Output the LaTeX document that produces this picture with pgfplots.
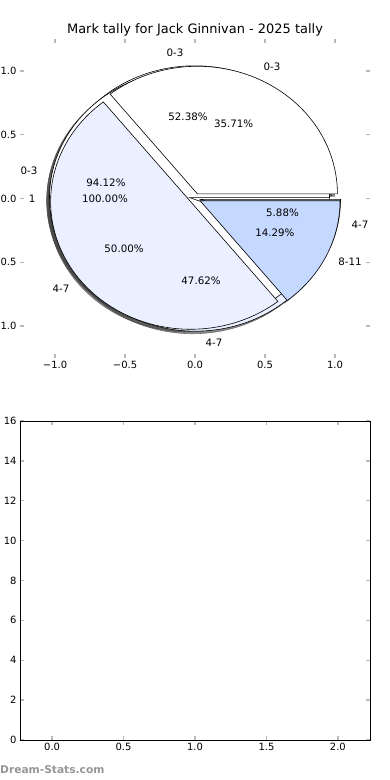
\documentclass[border=0pt]{standalone}
\usepackage{fontspec}
\setmainfont{DejaVu Sans}
\usepackage{pgfplots}
\pgfplotsset{compat=1.18}
\definecolor{sliceW}{RGB}{255,255,255}
\definecolor{sliceL}{RGB}{234,240,255}
\definecolor{sliceM}{RGB}{197,216,255}
\definecolor{tickgray}{RGB}{185,185,185}
\definecolor{wm}{RGB}{150,150,150}

% counts of each pie (label: count)
% pie A: 1 -> 1
% pie B: 0-3 -> 16, 4-7 -> 1
% pie C: 0-3 -> 11, 4-7 -> 10
% pie D: 0-3 -> 5, 4-7 -> 7, 8-11 -> 2
\def\Bone{16}\def\Btwo{1}
\def\Cone{11}\def\Ctwo{10}
\def\Done{5}\def\Dtwo{7}\def\Dthree{2}
\def\explode{0.04}

\newcommand\pieWedge[4]{% start, end, colour, explode
  \pgfmathsetmacro\pwm{(#1+#2)/2}%
  \pgfmathsetmacro\pwx{#4*cos(\pwm)}%
  \pgfmathsetmacro\pwy{#4*sin(\pwm)}%
  \edef\pwtmp{\noexpand\addplot[draw=black, line width=0.6bp, fill=#3, domain=#1:#2, samples=120] ({\pwx+cos(x)},{\pwy+sin(x)}) -- (axis cs:\pwx,\pwy) -- cycle;}%
  \pwtmp}
\newcommand\pieShadow[3]{% start, end, explode
  \pgfmathsetmacro\pwm{(#1+#2)/2}%
  \pgfmathsetmacro\pwx{#3*cos(\pwm)-0.02}%
  \pgfmathsetmacro\pwy{#3*sin(\pwm)-0.02}%
  \edef\pwtmp{\noexpand\addplot[draw=black!75, draw opacity=0.6, line width=0.6bp, fill=black!75, fill opacity=0.6, domain=#1:#2, samples=120] ({\pwx+cos(x)},{\pwy+sin(x)}) -- (axis cs:\pwx,\pwy) -- cycle;}%
  \pwtmp}

\begin{document}
\begin{tikzpicture}
\path[use as bounding box] (0,0) rectangle (390bp,780bp);
\pgfmathsetmacro\Ba{360*\Bone/(\Bone+\Btwo)}
\pgfmathsetmacro\Ca{360*\Cone/(\Cone+\Ctwo)}
\pgfmathsetmacro\Da{360*\Done/(\Done+\Dtwo+\Dthree)}
\pgfmathsetmacro\Db{360*(\Done+\Dtwo)/(\Done+\Dtwo+\Dthree)}

\node[font=\fontsize{13}{15}\selectfont] at (195bp,750bp) {Mark tally for Jack Ginnivan - 2025 tally};

\begin{axis}[
  at={(20bp,422bp)}, anchor=south west,
  scale only axis, width=350bp, height=319bp,
  xmin=-1.25, xmax=1.25, ymin=-1.25, ymax=1.25,
  clip=false,
  axis line style={draw=none},
  tick align=inside, tick pos=both,
  xticklabel pos=lower, yticklabel pos=left,
  major tick length=4bp,
  tick style={tickgray, line width=1.3bp},
  xtick={-1,-0.5,0,0.5,1},
  ytick={-1,-0.5,0,0.5,1},
  xticklabels={−1.0,−0.5,0.0,0.5,1.0},
  yticklabels={−1.0,−0.5,0.0,0.5,1.0},
  tick label style={font=\fontsize{10}{12}\selectfont},
]
% shadows (drawn beneath every wedge)
\addplot[draw=black!75, draw opacity=0.6, fill=black!75, fill opacity=0.6, domain=0:360, samples=200] ({-\explode-0.02+cos(x)},{-0.02+sin(x)}) -- cycle;
\pieShadow{0}{\Ca}{\explode}
\pieShadow{\Ca}{360}{\explode}
\pieShadow{0}{\Ba}{\explode}
\pieShadow{\Ba}{360}{\explode}
\pieShadow{0}{\Da}{\explode}
\pieShadow{\Da}{\Db}{\explode}
\pieShadow{\Db}{360}{\explode}
% pie A
\addplot[draw=black, line width=0.6bp, fill=sliceW, domain=0:360, samples=200] ({-\explode+cos(x)},{sin(x)}) -- cycle;
% pie C
\pieWedge{0}{\Ca}{sliceW}{\explode}
\pieWedge{\Ca}{360}{sliceL}{\explode}
% pie B
\pieWedge{0}{\Ba}{sliceW}{\explode}
\pieWedge{\Ba}{360}{sliceL}{\explode}
% pie D
\pieWedge{0}{\Da}{sliceW}{\explode}
\pieWedge{\Da}{\Db}{sliceL}{\explode}
\pieWedge{\Db}{360}{sliceM}{\explode}

\begin{scope}[every node/.style={font=\fontsize{10.3}{12}\selectfont, inner sep=0pt}]
\node at (axis cs:-0.143,1.139) {0-3};
\node at (axis cs:0.55,1.03) {0-3};
\node at (axis cs:-1.186,0.215) {0-3};
\node at (axis cs:-1.164,0.0) {1};
\node at (axis cs:1.179,-0.207) {4-7};
\node at (axis cs:1.107,-0.496) {8-11};
\node at (axis cs:-0.957,-0.709) {4-7};
\node at (axis cs:0.136,-1.132) {4-7};
\node at (axis cs:-0.05,0.638) {52.38\%};
\node at (axis cs:0.276,0.583) {35.71\%};
\node at (axis cs:-0.636,0.121) {94.12\%};
\node at (axis cs:-0.643,0.0) {100.00\%};
\node at (axis cs:0.625,-0.114) {5.88\%};
\node at (axis cs:0.571,-0.27) {14.29\%};
\node at (axis cs:-0.507,-0.395) {50.00\%};
\node at (axis cs:0.043,-0.645) {47.62\%};
\end{scope}
\end{axis}

\begin{axis}[
  at={(20bp,40bp)}, anchor=south west,
  scale only axis, width=350bp, height=319bp,
  xmin=-0.225, xmax=2.225, ymin=0, ymax=16,
  axis line style={black, line width=0.9bp},
  tick align=inside, tick pos=both,
  xticklabel pos=lower, yticklabel pos=left,
  major tick length=4bp,
  tick style={tickgray, line width=1.3bp},
  xtick={0,0.5,1,1.5,2},
  ytick={0,2,4,6,8,10,12,14,16},
  xticklabels={0.0,0.5,1.0,1.5,2.0},
  yticklabels={0,2,4,6,8,10,12,14,16},
  tick label style={font=\fontsize{10}{12}\selectfont},
]
\end{axis}

\node[anchor=west, inner sep=0pt, text=wm, font=\fontsize{10.7}{12}\selectfont\bfseries] at (0bp,10bp) {Dream-Stats.com};
\end{tikzpicture}
\end{document}
